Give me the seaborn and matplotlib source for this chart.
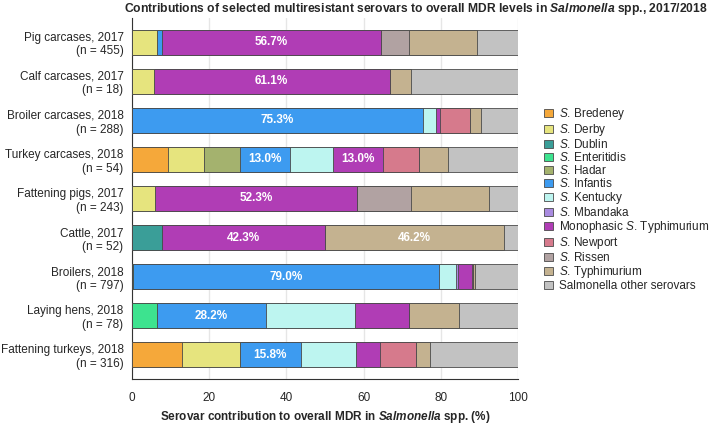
import matplotlib

matplotlib.use("Agg")
import matplotlib.pyplot as plt
import numpy as np
import pandas as pd
import seaborn as sns

# Data (percent of MDR isolates per serovar)
categories = [
    "Pig carcases, 2017\n(n = 455)",
    "Calf carcases, 2017\n(n = 18)",
    "Broiler carcases, 2018\n(n = 288)",
    "Turkey carcases, 2018\n(n = 54)",
    "Fattening pigs, 2017\n(n = 243)",
    "Cattle, 2017\n(n = 52)",
    "Broilers, 2018\n(n = 797)",
    "Laying hens, 2018\n(n = 78)",
    "Fattening turkeys, 2018\n(n = 316)",
]
serovars = [
    "Bredeney", "Derby", "Dublin", "Enteritidis", "Hadar", "Infantis",
    "Kentucky", "Mbandaka", "Monophasic", "Newport", "Rissen",
    "Typhimurium", "Other",
]
bredeney = [0, 0, 0, 9.3, 0, 0, 0, 0, 13.1]
derby = [6.4, 5.6, 0, 9.3, 6.0, 0, 0, 0, 14.8]
dublin = [0, 0, 0, 0, 0, 7.7, 0, 0, 0]
enteritidis = [0, 0, 0, 0, 0, 0, 0.4, 6.4, 0]
hadar = [0, 0, 0, 9.3, 0, 0, 0, 0, 0]
infantis = [1.3, 0, 75.3, 13.0, 0, 0, 79.0, 28.2, 15.8]
kentucky = [0, 0, 3.4, 11.1, 0, 0, 4.6, 23.1, 14.2]
mbandaka = [0, 0, 0, 0, 0, 0, 0.4, 0, 0]
monophasic = [56.7, 61.1, 1.1, 13.0, 52.3, 42.3, 3.5, 14.1, 6.4]
newport = [0, 0, 7.7, 9.3, 0, 0, 0.4, 0, 9.3]
rissen = [7.4, 0, 0, 0, 14.0, 0, 0, 0, 0]
typhimurium = [17.6, 5.6, 2.8, 7.4, 20.0, 46.2, 0.5, 12.8, 3.5]
other = [10.6, 27.8, 9.7, 18.5, 7.7, 3.8, 11.2, 15.4, 22.9]

legend_labels = [
    r"$\mathit{S}$. Bredeney", r"$\mathit{S}$. Derby", r"$\mathit{S}$. Dublin",
    r"$\mathit{S}$. Enteritidis", r"$\mathit{S}$. Hadar", r"$\mathit{S}$. Infantis",
    r"$\mathit{S}$. Kentucky", r"$\mathit{S}$. Mbandaka",
    r"Monophasic $\mathit{S}$. Typhimurium", r"$\mathit{S}$. Newport",
    r"$\mathit{S}$. Rissen", r"$\mathit{S}$. Typhimurium",
    "Salmonella other serovars",
]
colors = [
    "#F5A83A", "#E6E47E", "#3A9E98", "#3DE38F", "#A4B26E", "#3D9BF0",
    "#BDF5F0", "#A98BE0", "#B03DB5", "#D67A8C", "#B1A2A2", "#C4B290",
    "#C2C2C2",
]
# segments that carry a value label (row index, serovar)
labelled = [
    (0, "Monophasic"), (1, "Monophasic"), (2, "Infantis"), (3, "Infantis"),
    (3, "Monophasic"), (4, "Monophasic"), (5, "Monophasic"),
    (5, "Typhimurium"), (6, "Infantis"), (7, "Infantis"), (8, "Infantis"),
]

df = pd.DataFrame(
    dict(zip(serovars, [bredeney, derby, dublin, enteritidis, hadar, infantis,
                        kentucky, mbandaka, monophasic, newport, rissen,
                        typhimurium, other])),
    index=categories,
)
cum = df.cumsum(axis=1)

sns.set_style("white")
plt.rcParams.update({
    "font.family": ["Liberation Sans", "DejaVu Sans"],
    "font.size": 8.5,
    "mathtext.fontset": "custom",
    "mathtext.rm": "Liberation Sans",
    "mathtext.it": "Liberation Sans:italic",
    "mathtext.bf": "Liberation Sans:bold:italic",
})

fig = plt.figure(figsize=(7.09, 4.24), dpi=100)
ax = fig.add_axes([0.186, 0.106, 0.545, 0.852])

# draw cumulative bars from the last serovar backwards so each covers the next
for name, col, lab in reversed(list(zip(serovars, colors, legend_labels))):
    plot_df = pd.DataFrame({"cat": categories, "val": cum[name].values})
    sns.barplot(data=plot_df, x="val", y="cat", orient="h", color=col,
                saturation=1, width=0.64, edgecolor="#4a4a4a", linewidth=0.6,
                ax=ax, label=lab, zorder=3)

for row, name in labelled:
    val = df.loc[categories[row], name]
    centre = cum.loc[categories[row], name] - val / 2
    ax.text(centre, row, f"{val:.1f}%", ha="center", va="center",
            color="white", fontweight="bold", fontsize=8.5, zorder=5)

ax.set_xlim(0, 100)
ax.set_ylim(8.62, -0.62)
ax.set_xticks(np.arange(0, 101, 20))
ax.xaxis.grid(True, color="#e6e6e6", lw=1, zorder=0)
ax.set_axisbelow(True)
sns.despine(ax=ax, top=True, right=True)
ax.spines["left"].set_color("#333333")
ax.spines["bottom"].set_color("#333333")
ax.tick_params(axis="x", length=4, color="#333333", labelsize=8.5, pad=5)
ax.tick_params(axis="y", length=0, labelsize=8.5, pad=6)
ax.set_ylabel("")
ax.set_xlabel(r"Serovar contribution to overall MDR in $\mathbf{Salmonella}$ spp. (%)",
              fontweight="bold", fontsize=8.5, labelpad=4)

fig.text(0.587, 0.978,
         r"Contributions of selected multiresistant serovars to overall MDR levels in "
         r"$\mathbf{Salmonella}$ spp., 2017/2018",
         ha="center", va="center", fontweight="bold", fontsize=8.7)

h, l = ax.get_legend_handles_labels()
if ax.get_legend() is not None:
    ax.get_legend().remove()
order = [l.index(lab) for lab in legend_labels]
fig.legend([h[i] for i in order], [l[i] for i in order], loc="center left",
           bbox_to_anchor=(0.752, 0.53), frameon=False, fontsize=8.5,
           handlelength=0.8, handleheight=0.7, labelspacing=0.0,
           handletextpad=0.5)

fig.savefig("out.png", dpi=100)
